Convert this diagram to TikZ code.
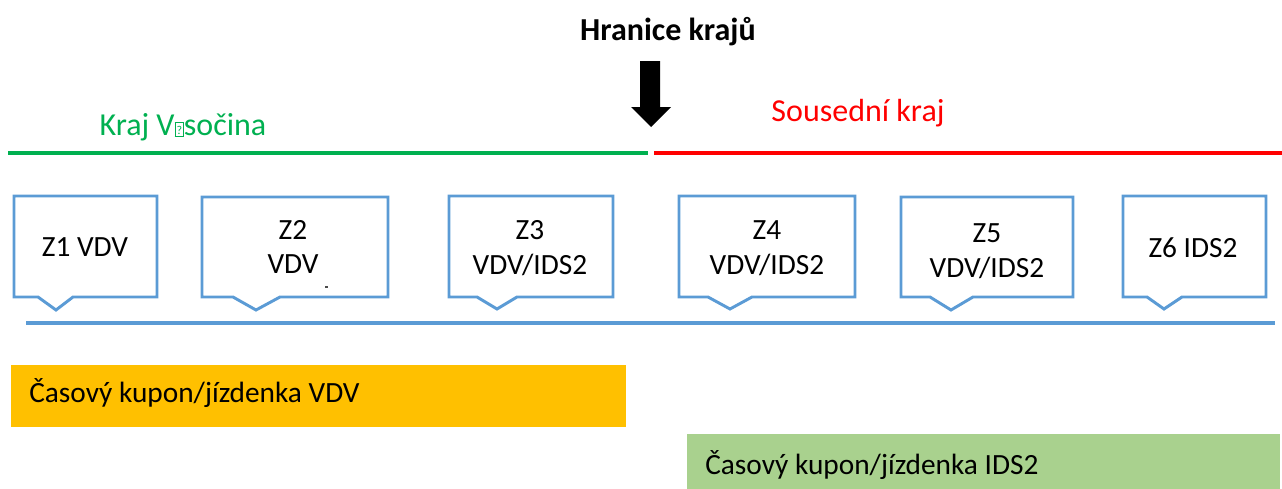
\documentclass[tikz,border=0pt]{standalone}
\usepackage{fontspec}
\setmainfont{Carlito}
\definecolor{zoneblue}{HTML}{5B9BD5}
\definecolor{regiongreen}{HTML}{00B050}
\definecolor{regionred}{HTML}{FF0000}
\definecolor{ticketorange}{HTML}{FFC000}
\definecolor{ticketgreen}{HTML}{A9D18E}
\newcommand{\zonecallout}[8]{%
  \draw[zoneline] (#1,#2) -- (#3,#2) -- (#3,#4) -- (#7,#4) -- (#6,#8) -- (#5,#4) -- (#1,#4) -- cycle;}
\newcommand{\tofubox}{{\setlength\fboxsep{0.7pt}\setlength\fboxrule{0.7pt}\raisebox{0.3pt}{\fbox{\rule{0pt}{8.4pt}\fontsize{9}{9}\selectfont ?}}}}
\begin{document}
\begin{tikzpicture}[x=0.75pt,y=-0.75pt,
  zoneline/.style={draw=zoneblue,line width=2.2pt,line join=miter},
  zonetext/.style={font=\fontsize{22}{26.2}\selectfont,align=center,inner sep=0pt},
  regiontext/.style={font=\fontsize{24}{28}\selectfont,inner sep=0pt},
  regionline/.style={line width=2.6pt},
  tickettext/.style={font=\fontsize{22}{26}\selectfont,anchor=west,inner sep=0pt},
  titletext/.style={font=\fontsize{24}{28}\selectfont\bfseries,inner sep=0pt}]
\useasboundingbox (0,0) rectangle (1282,489);
% title and arrow
\node[titletext] (title) at (668,32) {Hranice krajů};
\fill[black] (640,61) -- (660,61) -- (660,107) -- (671,107) -- (651,127) -- (631,107) -- (640,107) -- cycle;
% region labels and lines
\node[regiontext,text=regiongreen] (vys) at (183,127) {Kraj V\tofubox sočina};
\node[regiontext,text=regionred] (sous) at (858,113) {Sousední kraj};
\coordinate (g1) at (8,153);
\coordinate (g2) at (648,153);
\coordinate (r1) at (654,153);
\coordinate (r2) at (1282,153);
\draw[regionline,regiongreen] (g1) -- (g2);
\draw[regionline,regionred] (r1) -- (r2);
% zone callouts
\zonecallout{14}{196}{157}{297}{38}{56}{73}{310}
\zonecallout{202}{197}{388}{297}{233}{256}{280}{310}
\zonecallout{449}{196}{613}{297}{477}{497}{517}{309}
\zonecallout{679}{196}{855}{297}{708}{730}{752}{309}
\zonecallout{901}{197}{1073}{297}{930}{951}{973}{310}
\zonecallout{1123}{196}{1266}{297}{1147}{1164}{1182}{309}
\node[zonetext] (z1) at (85,247) {Z1 VDV};
\node[zonetext] (z2) at (293,247) {Z2\\VDV};
\node[zonetext] (z3) at (530,248) {Z3\\VDV/IDS2};
\node[zonetext] (z4) at (767,248) {Z4\\VDV/IDS2};
\node[zonetext] (z5) at (987,251) {Z5\\VDV/IDS2};
\node[zonetext] (z6) at (1193,248) {Z6 IDS2};
\coordinate (m1) at (325,287);
\coordinate (m2) at (328,287);
\draw[line width=0.8pt,black!70] (m1) -- (m2);
% blue baseline
\coordinate (b1) at (26,323);
\coordinate (b2) at (1275,323);
\draw[draw=zoneblue,line width=3.2pt] (b1) -- (b2);
% tickets
\fill[ticketorange] (11,365) rectangle (626,427);
\node[tickettext] (tvdv) at (29,393) {Časový kupon/jízdenka VDV};
\fill[ticketgreen] (687,434) rectangle (1280,489);
\node[tickettext] (tids) at (705,465) {Časový kupon/jízdenka IDS2};
\end{tikzpicture}
\end{document}
